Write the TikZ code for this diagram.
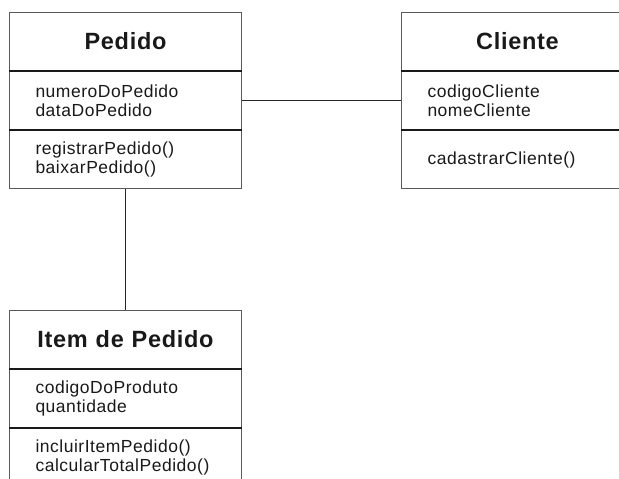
\documentclass[tikz,border=0pt]{standalone}
\usepackage{fontspec}
\setmainfont{Liberation Sans}
\newfontfamily\fonteuml[LetterSpace=3]{Liberation Sans}
\usepackage{tikz}

\begin{document}
\begin{tikzpicture}[x=1pt,y=-1pt]
\tikzstyle{ligacao}=[line width=1pt,black!85]
\tikzstyle{divisa}=[line width=2pt,black!90]
\tikzset{classe/.style={draw=black!65,line width=1pt,text=black!90,inner ysep=0pt,
minimum width=232pt,minimum height=58pt,anchor=north west},
titulo/.style={classe,font=\fonteuml\fontsize{23.5}{26}\selectfont\bfseries,align=center,text width=232pt,inner xsep=0pt},
secao/.style={classe,anchor=north,font=\fonteuml\fontsize{17.5}{19}\selectfont,align=left,text width=180pt,inner xsep=26pt}}
\clip (0,0) rectangle (619,479);

\node[titulo] (Pedido) at (9,12) {Pedido};
\node[secao] (PedidoAtr) at (Pedido.south) {numeroDoPedido\\dataDoPedido};
\node[secao] (PedidoMet) at (PedidoAtr.south) {registrarPedido()\\baixarPedido()};

\node[titulo] (Cliente) at (401,12) {Cliente};
\node[secao] (ClienteAtr) at (Cliente.south) {codigoCliente\\nomeCliente};
\node[secao] (ClienteMet) at (ClienteAtr.south) {cadastrarCliente()};

\node[titulo] (Item) at (9,310) {Item de Pedido};
\node[secao] (ItemAtr) at (Item.south) {codigoDoProduto\\quantidade};
\node[secao] (ItemMet) at (ItemAtr.south) {incluirItemPedido()\\calcularTotalPedido()};

\draw[divisa] (Pedido.south west) -- (Pedido.south east);
\draw[divisa] (PedidoAtr.south west) -- (PedidoAtr.south east);
\draw[divisa] (Cliente.south west) -- (Cliente.south east);
\draw[divisa] (ClienteAtr.south west) -- (ClienteAtr.south east);
\draw[divisa] (Item.south west) -- (Item.south east);
\draw[divisa] (ItemAtr.south west) -- (ItemAtr.south east);

\draw[ligacao] (PedidoAtr.east) -- (ClienteAtr.west);
\draw[ligacao] (PedidoMet.south) -- (Item.north);

\end{tikzpicture}
\end{document}
